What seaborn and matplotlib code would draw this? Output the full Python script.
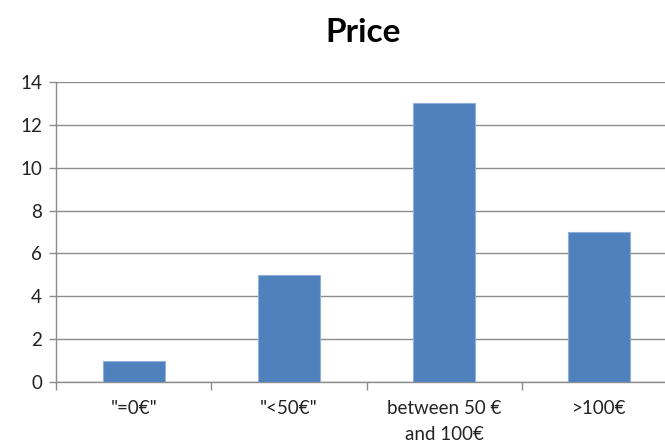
import matplotlib
matplotlib.use("Agg")
import matplotlib.pyplot as plt
import seaborn as sns
import pandas as pd
from matplotlib.ticker import FixedLocator

categories = ['"=0€"', '"<50€"', 'between 50 €\nand 100€', '>100€']
counts = [1, 5, 13, 7]
yticks = [0, 2, 4, 6, 8, 10, 12, 14]
title = "Price"

sns.set_theme(style="white")
plt.rcParams['font.family'] = ['Lato', 'DejaVu Sans']

df = pd.DataFrame({"cat": categories, "n": counts})

W, H = 665, 447
fig = plt.figure(figsize=(W / 100, H / 100), dpi=100)
left, right = 56, 677
bottom, top = 382, 82
ax = fig.add_axes([left / W, (H - bottom) / H, (right - left) / W, (bottom - top) / H])

sns.barplot(data=df, x="cat", y="n", ax=ax, color="#4F81BD", width=0.4,
            edgecolor="#8FB0DA", linewidth=0.8, saturation=1, zorder=3)

ax.set_xlim(-0.5, len(categories) - 0.5)
ax.set_ylim(0, 14)
ax.set_yticks(yticks)
ax.yaxis.grid(True, color="#8C8C8C", linewidth=1.0, zorder=0)
ax.set_axisbelow(True)
for s in ["top", "right"]:
    ax.spines[s].set_visible(False)
for s in ["left", "bottom"]:
    ax.spines[s].set_color("#8C8C8C")
    ax.spines[s].set_linewidth(1.0)

ax.set_xlabel("")
ax.set_ylabel("")
ax.tick_params(axis="y", which="major", direction="out", length=5, width=1,
               color="#8C8C8C", labelsize=13.5, labelcolor="#222222", pad=5, left=True)
ax.tick_params(axis="x", which="major", length=0, labelsize=13.5, labelcolor="#222222", pad=13)
ax.xaxis.set_minor_locator(FixedLocator([i + 0.5 for i in range(-1, len(categories))]))
ax.tick_params(axis="x", which="minor", direction="out", length=6, width=1,
               color="#8C8C8C", bottom=True)
for lbl in ax.get_xticklabels():
    lbl.set_linespacing(1.65)
    lbl.set_verticalalignment("top")

fig.text(363 / W, 1 - 33 / H, title, ha="center", va="center",
         fontsize=24, fontweight="bold", color="#000000")

fig.savefig("out.png", dpi=100, facecolor="white")
